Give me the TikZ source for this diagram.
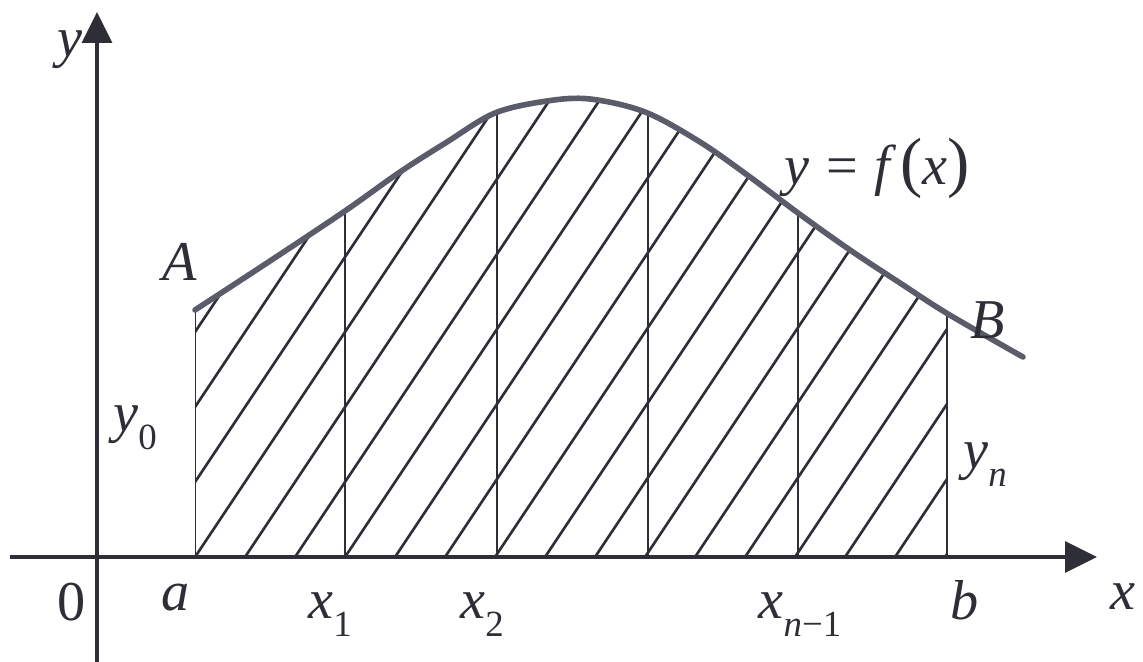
\documentclass[tikz,border=0pt]{standalone}
\usepackage{fontspec}
\setmainfont{Liberation Serif}
\usetikzlibrary{arrows.meta}
\definecolor{ink}{HTML}{2E2E36}
\definecolor{curvec}{HTML}{5A5C6A}
\newcommand\subsc[1]{\raisebox{-0.32em}{\fontsize{21}{21}\selectfont #1}}
\newcommand\bigpar[1]{{\fontsize{38}{38}\selectfont #1}}
\begin{document}
\begin{tikzpicture}[x=0.02cm,y=-0.02cm,
  axisline/.style={draw=ink, line width=1.9pt},
  ordline/.style={draw=ink, line width=1.6pt},
  hatchline/.style={draw=ink, line width=1.5pt},
  fcurve/.style={draw=curvec, line width=3.2pt, line cap=round},
  lab/.style={inner sep=0pt, text=ink, font=\fontsize{32}{34}\selectfont}]
\useasboundingbox (0,0) rectangle (1143,662);
% hatching
\begin{scope}
  \clip (195,0) rectangle (947,557);
  \clip (195,557) -- plot[smooth,tension=0.55] coordinates {(195,310) (270,261) (345,211) (400,172) (447,142) (495,113) (547,101) (590,99) (645,112) (700,142) (750,177) (798,213) (850,250) (900,283) (948,314) (1023,357)} -- (1023,557) -- cycle;
  \foreach \k in {-9,...,16} \draw[hatchline] (195+50*\k,557) -- ++(400,-600);
\end{scope}
% ordinates
\begin{scope}
  \clip (195,557) -- plot[smooth,tension=0.55] coordinates {(195,310) (270,261) (345,211) (400,172) (447,142) (495,113) (547,101) (590,99) (645,112) (700,142) (750,177) (798,213) (850,250) (900,283) (948,314) (1023,357)} -- (1023,557) -- (1023,700) -- (150,700) -- (150,557) -- cycle;
  \foreach \xv in {195,345,497,648,798,947} \draw[ordline] (\xv,557) -- (\xv,50);
\end{scope}
% curve
\draw[fcurve] plot[smooth,tension=0.55] coordinates {(195,310) (270,261) (345,211) (400,172) (447,142) (495,113) (547,101) (590,99) (645,112) (700,142) (750,177) (798,213) (850,250) (900,283) (948,314) (1023,357)};
% axes
\coordinate (xs) at (10,557);
\coordinate (xe) at (1097,557);
\coordinate (ys) at (97,662);
\coordinate (ye) at (97,12);
\draw[axisline, -{Triangle[length=0.64cm,width=0.62cm]}] (xs) -- (xe);
\draw[axisline, -{Triangle[length=0.62cm,width=0.6cm]}] (ys) -- (ye);
% labels
\node[lab] (ly) at (70,50) {\textit{y}};
\node[lab] (lA) at (180,262) {\textit{A}};
\node[lab] (ly0) at (135,428) {\textit{y}\subsc{0}};
\node[lab] (l0) at (72,602) {0};
\node[lab] (la) at (176,598) {\textit{a}};
\node[lab] (lx1) at (330,615) {\textit{x}\subsc{1}};
\node[lab] (lx2) at (482,615) {\textit{x}\subsc{2}};
\node[lab] (lxn) at (800,615) {\textit{x}\subsc{\textit{n}−1}};
\node[lab] (lb) at (965,600) {\textit{b}};
\node[lab] (lx) at (1123,597) {\textit{x}};
\node[lab] (lB) at (988,320) {\textit{B}};
\node[lab] (lyn) at (985,465) {\textit{y}\subsc{\textit{n}}};
\node[lab] (lf) at (877,168) {\textit{y}\hspace{0.3em}=\hspace{0.3em}\textit{f}\hspace{0.06em}\bigpar{(}\textit{x}\bigpar{)}};
\end{tikzpicture}
\end{document}
